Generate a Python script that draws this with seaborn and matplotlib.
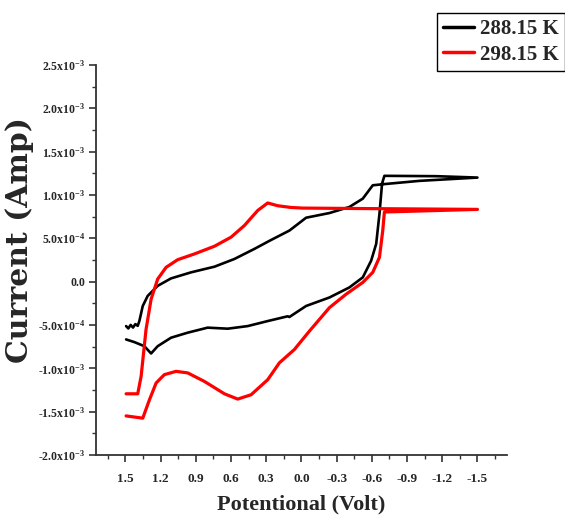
import numpy as np
import pandas as pd
import matplotlib
matplotlib.use("Agg")
import matplotlib.pyplot as plt
import seaborn as sns
from matplotlib.ticker import FixedLocator, FixedFormatter, MultipleLocator
from matplotlib.lines import Line2D

# ---- data ----
v_288 = [1.494, 1.475, 1.455, 1.435, 1.415, 1.395, 1.381, 1.352, 1.31, 1.225, 1.111, 0.94, 0.741,
         0.571, 0.401, 0.273, 0.102, -0.04, -0.239, -0.409, -0.523, -0.608, -0.693, -1.006, -1.50,
         -1.148, -0.707, -0.687, -0.665, -0.637, -0.594, -0.523, -0.409, -0.239, -0.04, 0.06,
         0.102, 0.117, 0.287, 0.458, 0.628, 0.799, 0.969, 1.111, 1.225, 1.281, 1.338, 1.423, 1.494]
i_288 = [-0.513e-3, -0.54e-3, -0.50e-3, -0.53e-3, -0.49e-3, -0.51e-3, -0.455e-3, -0.281e-3,
         -0.165e-3, -0.049e-3, 0.037e-3, 0.107e-3, 0.172e-3,
         0.261e-3, 0.377e-3, 0.47e-3, 0.589e-3, 0.737e-3, 0.791e-3, 0.861e-3, 0.957e-3, 1.111e-3,
         1.123e-3, 1.162e-3, 1.20e-3,
         1.216e-3, 1.220e-3, 1.131e-3, 0.783e-3, 0.435e-3, 0.241e-3, 0.049e-3, -0.067e-3,
         -0.183e-3, -0.281e-3, -0.37e-3,
         -0.408e-3, -0.40e-3, -0.455e-3, -0.513e-3, -0.543e-3, -0.531e-3, -0.589e-3, -0.647e-3,
         -0.745e-3, -0.829e-3, -0.745e-3, -0.698e-3, -0.667e-3]

v_298 = [1.494, 1.395, 1.366, 1.324, 1.281, 1.225, 1.153, 1.054, 0.912, 0.741, 0.599, 0.486, 0.372,
         0.287, 0.202, 0.088, -0.011, -0.58, -1.50,
         -0.707, -0.693, -0.665, -0.608, -0.523, -0.381, -0.239, -0.068, 0.06, 0.188, 0.287,
         0.429, 0.543, 0.656, 0.827, 0.969, 1.068, 1.168, 1.238, 1.295, 1.352, 1.494]
i_298 = [-1.294e-3, -1.294e-3, -1.093e-3, -0.551e-3, -0.203e-3, 0.029e-3, 0.165e-3, 0.253e-3,
         0.319e-3, 0.408e-3, 0.513e-3, 0.647e-3, 0.821e-3,
         0.907e-3, 0.875e-3, 0.855e-3, 0.848e-3, 0.842e-3, 0.833e-3,
         0.803e-3, 0.589e-3, 0.281e-3, 0.107e-3, -0.009e-3, -0.145e-3, -0.30e-3, -0.571e-3,
         -0.783e-3, -0.937e-3, -1.131e-3,
         -1.305e-3, -1.355e-3, -1.294e-3, -1.151e-3, -1.053e-3, -1.035e-3, -1.073e-3, -1.169e-3,
         -1.363e-3, -1.575e-3, -1.549e-3]

series_names = ["288.15 K", "298.15 K"]
x_ticks = [1.5, 1.2, 0.9, 0.6, 0.3, 0.0, -0.3, -0.6, -0.9, -1.2, -1.5]
x_tick_labels = ["1.5", "1.2", "0.9", "0.6", "0.3", "0.0", "-0.3", "-0.6", "-0.9", "-1.2", "-1.5"]
y_ticks = [-2.0e-3, -1.5e-3, -1.0e-3, -0.5e-3, 0.0, 0.5e-3, 1.0e-3, 1.5e-3, 2.0e-3, 2.5e-3]
y_tick_labels = [r"-2.0x10$^{-3}$", r"-1.5x10$^{-3}$", r"-1.0x10$^{-3}$", r"-5.0x10$^{-4}$", "0.0",
                 r"5.0x10$^{-4}$", r"1.0x10$^{-3}$", r"1.5x10$^{-3}$", r"2.0x10$^{-3}$", r"2.5x10$^{-3}$"]

df = pd.concat([
    pd.DataFrame({"V": v_288, "I": i_288, "T": series_names[0]}),
    pd.DataFrame({"V": v_298, "I": i_298, "T": series_names[1]}),
], ignore_index=True)

sns.set_style("ticks")
plt.rcParams["font.family"] = ["Liberation Serif", "DejaVu Serif"]
plt.rcParams["font.weight"] = "bold"
plt.rcParams["mathtext.default"] = "regular"

fig = plt.figure(figsize=(5.65, 5.23), dpi=100)
ax = fig.add_axes([0.170, 0.130, 0.727, 0.746])

sns.lineplot(data=df, x="V", y="I", hue="T", units="T", estimator=None, sort=False,
             palette={series_names[0]: "black", series_names[1]: "#ff0000"},
             ax=ax, legend=False)
lines = ax.get_lines()
lines[0].set_linewidth(1.9)
lines[1].set_linewidth(2.3)
for ln in lines:
    ln.set_solid_joinstyle("round")
    ln.set_solid_capstyle("round")

ax.set_xlim(1.75, -1.75)
ax.set_ylim(-2.0e-3, 2.5e-3)
ax.xaxis.set_major_locator(FixedLocator(x_ticks))
ax.xaxis.set_major_formatter(FixedFormatter(x_tick_labels))
ax.xaxis.set_minor_locator(MultipleLocator(0.15))
ax.yaxis.set_major_locator(FixedLocator(y_ticks))
ax.yaxis.set_major_formatter(FixedFormatter(y_tick_labels))
ax.yaxis.set_minor_locator(MultipleLocator(0.25e-3))

for s in ["top", "right"]:
    ax.spines[s].set_visible(False)
for s in ["left", "bottom"]:
    ax.spines[s].set_linewidth(1.3)
    ax.spines[s].set_color("#333333")

ax.tick_params(which="major", direction="out", length=5, width=1.2, color="#333333")
ax.tick_params(which="minor", direction="out", length=3, width=1.0, color="#333333")
ax.tick_params(axis="x", labelsize=9.5, pad=8)
ax.tick_params(axis="y", labelsize=8.5, pad=3)
for lab in ax.get_xticklabels() + ax.get_yticklabels():
    lab.set_fontweight("bold")

ax.set_xlabel("Potentional (Volt)", fontsize=16, fontweight="bold", labelpad=7)
ax.set_ylabel("Current (Amp)", fontsize=21.5, fontweight="bold", family="DejaVu Serif")
ax.yaxis.set_label_coords(-0.151, 0.551)

handles = [Line2D([], [], color="black", lw=2.5), Line2D([], [], color="#ff0000", lw=2.5)]
leg = fig.legend(handles, series_names, loc="upper left", bbox_to_anchor=(0.773, 0.975),
                 frameon=True, fancybox=False, edgecolor="black", framealpha=1,
                 prop={"family": "Liberation Serif", "weight": "bold", "size": 15},
                 handlelength=1.5, handletextpad=0.3, borderpad=0.3, labelspacing=0.25,
                 borderaxespad=0)
leg.get_frame().set_linewidth(1.0)

fig.savefig("out.png", dpi=100)
